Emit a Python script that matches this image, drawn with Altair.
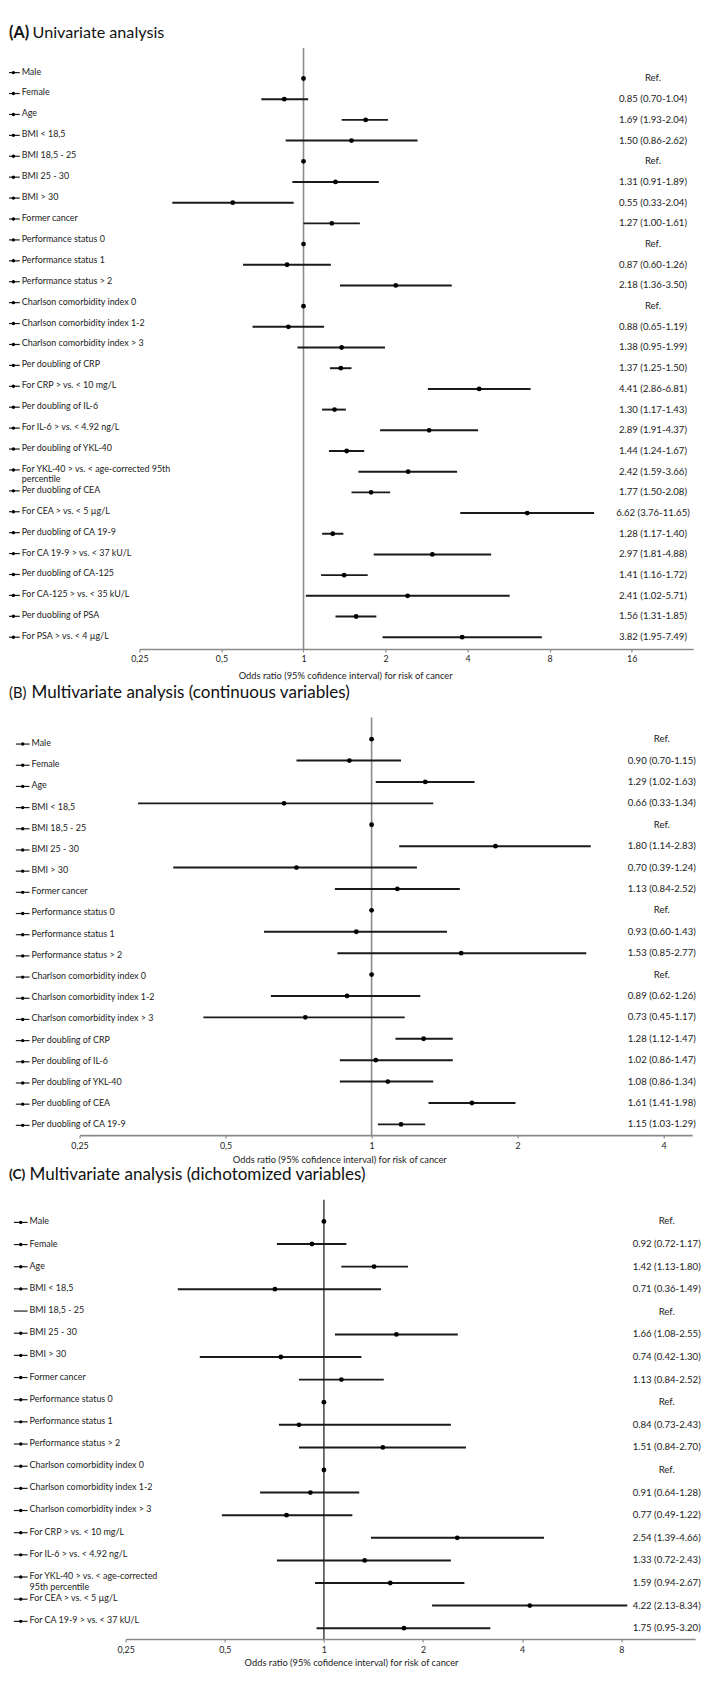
import altair as alt
import pandas as pd

FONT = "Lato"
AXIS_TITLE = "Odds ratio (95% cofidence interval) for risk of cancer"

title_prefix = ["(A)", "(B)", "(C)"]
title_main = ["Univariate analysis",
              "Multivariate analysis (continuous variables)",
              "Multivariate analysis (dichotomized variables)"]

# ---------------- Panel A ----------------
a_labels = ["Male", "Female", "Age", "BMI < 18,5", "BMI 18,5 - 25", "BMI 25 - 30", "BMI > 30",
            "Former cancer", "Performance status 0", "Performance status 1", "Performance status > 2",
            "Charlson comorbidity index 0", "Charlson comorbidity index 1-2", "Charlson comorbidity index > 3",
            "Per doubling of CRP", "For CRP > vs. < 10 mg/L", "Per doubling of IL-6",
            "For IL-6 > vs. < 4.92 ng/L", "Per doubling of YKL-40",
            "For YKL-40 > vs. < age-corrected 95th\npercentile", "Per duobling of CEA",
            "For CEA > vs. < 5 \u00b5g/L", "Per duobling of CA 19-9", "For CA 19-9 > vs. < 37 kU/L",
            "Per duobling of CA-125", "For CA-125 > vs. < 35 kU/L", "Per duobling of PSA",
            "For PSA > vs. < 4 \u00b5g/L"]
a_est = [1, 0.85, 1.69, 1.50, 1, 1.31, 0.55, 1.27, 1, 0.87, 2.18, 1, 0.88, 1.38, 1.37, 4.41, 1.30,
         2.89, 1.44, 2.42, 1.77, 6.62, 1.28, 2.97, 1.41, 2.41, 1.56, 3.82]
a_lo = [None, 0.70, 1.38, 0.86, None, 0.91, 0.33, 1.00, None, 0.60, 1.36, None, 0.65, 0.95, 1.25, 2.86,
        1.17, 1.91, 1.24, 1.59, 1.50, 3.76, 1.17, 1.81, 1.16, 1.02, 1.31, 1.95]
a_hi = [None, 1.04, 2.04, 2.62, None, 1.89, 0.92, 1.61, None, 1.26, 3.50, None, 1.19, 1.99, 1.50, 6.81,
        1.43, 4.37, 1.67, 3.66, 2.08, 11.65, 1.40, 4.88, 1.72, 5.71, 1.85, 7.49]
a_ci = ["Ref.", "0.85 (0.70-1.04)", "1.69 (1.93-2.04)", "1.50 (0.86-2.62)", "Ref.", "1.31 (0.91-1.89)",
        "0.55 (0.33-2.04)", "1.27 (1.00-1.61)", "Ref.", "0.87 (0.60-1.26)", "2.18 (1.36-3.50)", "Ref.",
        "0.88 (0.65-1.19)", "1.38 (0.95-1.99)", "1.37 (1.25-1.50)", "4.41 (2.86-6.81)", "1.30 (1.17-1.43)",
        "2.89 (1.91-4.37)", "1.44 (1.24-1.67)", "2.42 (1.59-3.66)", "1.77 (1.50-2.08)", "6.62 (3.76-11.65)",
        "1.28 (1.17-1.40)", "2.97 (1.81-4.88)", "1.41 (1.16-1.72)", "2.41 (1.02-5.71)", "1.56 (1.31-1.85)",
        "3.82 (1.95-7.49)"]
a_ticks = [0.25, 0.5, 1, 2, 4, 8, 16]

# ---------------- Panel B ----------------
b_labels = ["Male", "Female", "Age", "BMI < 18,5", "BMI 18,5 - 25", "BMI 25 - 30", "BMI > 30",
            "Former cancer", "Performance status 0", "Performance status 1", "Performance status > 2",
            "Charlson comorbidity index 0", "Charlson comorbidity index 1-2", "Charlson comorbidity index > 3",
            "Per doubling of CRP", "Per doubling of IL-6", "Per doubling of YKL-40", "Per duobling of CEA",
            "Per duobling of CA 19-9"]
b_est = [1, 0.90, 1.29, 0.66, 1, 1.80, 0.70, 1.13, 1, 0.93, 1.53, 1, 0.89, 0.73, 1.28, 1.02, 1.08, 1.61, 1.15]
b_lo = [None, 0.70, 1.02, 0.33, None, 1.14, 0.39, 0.84, None, 0.60, 0.85, None, 0.62, 0.45, 1.12, 0.86,
        0.86, 1.31, 1.03]
b_hi = [None, 1.15, 1.63, 1.34, None, 2.83, 1.24, 1.52, None, 1.43, 2.77, None, 1.26, 1.17, 1.47, 1.47,
        1.34, 1.98, 1.29]
b_ci = ["Ref.", "0.90 (0.70-1.15)", "1.29 (1.02-1.63)", "0.66 (0.33-1.34)", "Ref.", "1.80 (1.14-2.83)",
        "0.70 (0.39-1.24)", "1.13 (0.84-2.52)", "Ref.", "0.93 (0.60-1.43)", "1.53 (0.85-2.77)", "Ref.",
        "0.89 (0.62-1.26)", "0.73 (0.45-1.17)", "1.28 (1.12-1.47)", "1.02 (0.86-1.47)", "1.08 (0.86-1.34)",
        "1.61 (1.41-1.98)", "1.15 (1.03-1.29)"]
b_ticks = [0.25, 0.5, 1, 2, 4]

# ---------------- Panel C ----------------
c_labels = ["Male", "Female", "Age", "BMI < 18,5", "BMI 18,5 - 25", "BMI 25 - 30", "BMI > 30",
            "Former cancer", "Performance status 0", "Performance status 1", "Performance status > 2",
            "Charlson comorbidity index 0", "Charlson comorbidity index 1-2", "Charlson comorbidity index > 3",
            "For CRP > vs. < 10 mg/L", "For IL-6 > vs. < 4.92 ng/L",
            "For YKL-40 > vs. < age-corrected\n95th percentile", "For CEA > vs. < 5 \u00b5g/L",
            "For CA 19-9 > vs. < 37 kU/L"]
c_est = [1, 0.92, 1.42, 0.71, None, 1.66, 0.74, 1.13, 1, 0.84, 1.51, 1, 0.91, 0.77, 2.54, 1.33, 1.59, 4.22, 1.75]
c_lo = [None, 0.72, 1.13, 0.36, None, 1.08, 0.42, 0.84, None, 0.73, 0.84, None, 0.64, 0.49, 1.39, 0.72,
        0.94, 2.13, 0.95]
c_hi = [None, 1.17, 1.80, 1.49, None, 2.55, 1.30, 1.52, None, 2.43, 2.70, None, 1.28, 1.22, 4.66, 2.43,
        2.67, 8.34, 3.20]
c_ci = ["Ref.", "0.92 (0.72-1.17)", "1.42 (1.13-1.80)", "0.71 (0.36-1.49)", "Ref.", "1.66 (1.08-2.55)",
        "0.74 (0.42-1.30)", "1.13 (0.84-2.52)", "Ref.", "0.84 (0.73-2.43)", "1.51 (0.84-2.70)", "Ref.",
        "0.91 (0.64-1.28)", "0.77 (0.49-1.22)", "2.54 (1.39-4.66)", "1.33 (0.72-2.43)", "1.59 (0.94-2.67)",
        "4.22 (2.13-8.34)", "1.75 (0.95-3.20)"]
c_ticks = [0.25, 0.5, 1, 2, 4, 8]

W = 700
INK = "#1a1a1a"


def panel(labels, est, lo, hi, ci, ticks, prefix, main, L):
    n = len(labels)
    df = pd.DataFrame({"row": list(range(n)), "label": labels, "est": est, "lo": lo, "hi": hi, "ci": ci})
    xs = alt.Scale(type="log", base=2, domain=L["xdom"], range=L["xrange"], nice=False)
    ax = alt.Axis(values=ticks, labelExpr="replace(toString(datum.value), '.', ',')",
                  tickSize=3, labelPadding=L["lpad"], labelFlush=False, grid=False,
                  titleX=L["atx"], titleY=L["aty"], titleBaseline="middle", titleAlign="center")
    ys_dot = alt.Scale(domain=[0, n - 1], range=L["dots"], nice=False, zero=False)
    ys_lab = alt.Scale(domain=[0, n - 1], range=L["labs"], nice=False, zero=False)
    base = alt.Chart(df)

    ref = alt.Chart(pd.DataFrame({"v": [1]})).mark_rule(
        color=L["refc"], strokeWidth=L["refw"]).encode(
        x=alt.X("v:Q", scale=xs, axis=ax, title=AXIS_TITLE),
        y=alt.value(L["line_top"]), y2=alt.value(L["H"]))
    bars = base.transform_filter("isValid(datum.lo)").mark_rule(
        color=INK, strokeWidth=2).encode(
        x=alt.X("lo:Q", scale=xs, axis=ax, title=AXIS_TITLE), x2="hi:Q",
        y=alt.Y("row:Q", scale=ys_dot, axis=None))
    pts = base.transform_filter("isValid(datum.est)").mark_circle(
        color="#000", size=24, opacity=1).encode(
        x=alt.X("est:Q", scale=xs, axis=ax, title=AXIS_TITLE),
        y=alt.Y("row:Q", scale=ys_dot, axis=None))
    citext = base.mark_text(font=FONT, fontSize=9.8, color="#222", align="center", baseline="middle").encode(
        x=alt.value(L["ci_x"]), y=alt.Y("row:Q", scale=ys_dot, axis=None), text="ci:N")
    labs = base.mark_text(font=FONT, fontSize=9.1, color="#222", align="left", baseline="top", dy=-5,
                          lineBreak="\n", lineHeight=10.8).encode(
        x=alt.value(L["lab_x"]), y=alt.Y("row:Q", scale=ys_lab, axis=None), text="label:N")
    mrule = base.mark_rule(color=INK, strokeWidth=1.2).encode(
        x=alt.value(L["m0"]), x2=alt.value(L["m1"]), y=alt.Y("row:Q", scale=ys_lab, axis=None))
    mdot = base.transform_filter("isValid(datum.est)").mark_circle(color="#000", size=12, opacity=1).encode(
        x=alt.value(L["md"]), y=alt.Y("row:Q", scale=ys_lab, axis=None))
    tdf = pd.DataFrame({"p": [prefix], "m": [main]})
    t1 = alt.Chart(tdf).mark_text(font=FONT, fontSize=L["psize"], fontWeight=L["pweight"], color="#111",
                                  align="left", baseline="middle").encode(
        x=alt.value(0), y=alt.value(L["title_y"]), text="p:N")
    t2 = alt.Chart(tdf).mark_text(font=FONT, fontSize=L["tsize"], color="#111", align="left",
                                  baseline="middle").encode(
        x=alt.value(L["main_x"]), y=alt.value(L["title_y"]), text="m:N")
    return alt.layer(ref, bars, pts, citext, labs, mrule, mdot, t1, t2).resolve_scale(
        y="independent").properties(width=W, height=L["H"])


LA = dict(xdom=[0.25, 26.9], xrange=[133.1, 698], atx=343, aty=27, lpad=3, H=637, title_y=9, line_top=24,
          dots=[55, 625], labs=[49, 625], ci_x=657, lab_x=13, m0=0, m1=11, md=4.5,
          refc="#8a8a8a", refw=1.6, psize=16.5, pweight="bold", main_x=24, tsize=16.5)
LB = dict(xdom=[0.25, 4.58], xrange=[72, 697], atx=337, aty=25, lpad=4, H=464, title_y=13, line_top=38,
          dots=[60, 453], labs=[65, 454], ci_x=666, lab_x=23, m0=7, m1=21, md=14,
          refc="#8a8a8a", refw=1.6, psize=15, pweight="normal", main_x=23, tsize=17.4)
LC = dict(xdom=[0.25, 13.4], xrange=[119, 700], atx=349, aty=24, lpad=4, H=484, title_y=11, line_top=36,
          dots=[58, 473], labs=[59, 466], ci_x=671, lab_x=21, m0=5, m1=19, md=12,
          refc="#222222", refw=1.3, psize=14, pweight="bold", main_x=21, tsize=17.4)

pA = panel(a_labels, a_est, a_lo, a_hi, a_ci, a_ticks, title_prefix[0], title_main[0], LA)
pB = panel(b_labels, b_est, b_lo, b_hi, b_ci, b_ticks, title_prefix[1], title_main[1], LB)
pC = panel(c_labels, c_est, c_lo, c_hi, c_ci, c_ticks, title_prefix[2], title_main[2], LC)

chart = alt.vconcat(pA, pB, pC, spacing=0).resolve_scale(x="independent", y="independent").properties(
    padding=0, background="white"
).configure_view(stroke=None).configure_axis(
    domainColor="#8a8a8a", domainWidth=1.6, tickColor="#8a8a8a", tickWidth=1.2,
    labelFont=FONT, labelFontSize=9, labelColor="#222",
    titleFont=FONT, titleFontSize=9.5, titleFontWeight="normal", titleColor="#222")

chart.save("out.html", embed_options={"renderer": "svg", "actions": False})
